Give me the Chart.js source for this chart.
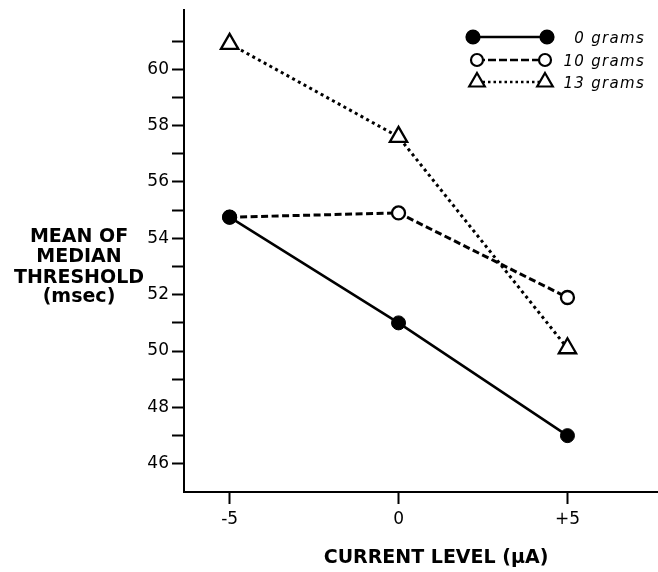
<!DOCTYPE html>
<html>
<head>
<meta charset="utf-8">
<script src="https://cdn.jsdelivr.net/npm/chart.js@4/dist/chart.umd.min.js"></script>
<style>
  html, body { margin: 0; padding: 0; background: #fff; overflow: hidden; }
  #wrap { width: 658px; height: 572px; position: relative; }
</style>
</head>
<body>
<div id="wrap"><canvas id="threshold_chart"></canvas></div>
<script>
// current level (uA) on x, mean of median threshold (msec) on y
const xValues = [-5, 0, 5];
const xTickLabels = ["-5", "0", "+5"];
const grams0 = [54.75, 51.0, 47.0];
const grams10 = [54.75, 54.9, 51.9];
const grams13 = [60.9, 57.6, 50.1];
const yTicks = [46, 47, 48, 49, 50, 51, 52, 53, 54, 55, 56, 57, 58, 59, 60, 61];
const yTickLabels = ["46", "", "48", "", "50", "", "52", "", "54", "", "56", "", "58", "", "60", ""];
const seriesNames = ["0 grams", "10 grams", "13 grams"];
const yTitleLines = ["MEAN OF", "MEDIAN", "THRESHOLD", "(msec)"];
const xTitle = "CURRENT LEVEL (\u03BCA)";

const toPoints = (vals) => vals.map((v, i) => ({ x: xValues[i], y: v }));

function drawMarker(ctx, style, x, y, r, filled) {
  ctx.beginPath();
  if (style === "triangle") {
    ctx.moveTo(x, y - r);
    ctx.lineTo(x + r * 0.866, y + r / 2);
    ctx.lineTo(x - r * 0.866, y + r / 2);
    ctx.closePath();
  } else {
    ctx.arc(x, y, r, 0, Math.PI * 2);
  }
  ctx.fillStyle = filled ? "#000" : "#fff";
  ctx.fill();
  ctx.lineWidth = 2.2;
  ctx.strokeStyle = "#000";
  ctx.stroke();
}

const extras = {
  id: "extras",
  afterDraw(chart) {
    const ctx = chart.ctx;
    ctx.save();
    ctx.fillStyle = "#000";

    // y title, horizontal block left of the axis
    ctx.font = "bold 19px 'DejaVu Sans'";
    ctx.textAlign = "center";
    ctx.textBaseline = "alphabetic";
    const ys = [242, 262, 283, 302];
    yTitleLines.forEach((t, i) => ctx.fillText(t, 79, ys[i]));

    // x title
    ctx.fillText(xTitle, 436, 563);

    // legend: line with a marker at both ends
    const rows = [
      { y: 37, style: "circle", r: 6.5, filled: true, dash: [], x0: 473, x1: 547 },
      { y: 60, style: "circle", r: 6, filled: false, dash: [8, 3], x0: 477, x1: 545 },
      { y: 82, style: "triangle", r: 9, filled: false, dash: [2.5, 3], x0: 477, x1: 545 },
    ];
    rows.forEach((row, i) => {
      ctx.beginPath();
      ctx.setLineDash(row.dash);
      ctx.lineWidth = 2.5;
      ctx.strokeStyle = "#000";
      ctx.moveTo(row.x0, row.y);
      ctx.lineTo(row.x1, row.y);
      ctx.stroke();
      ctx.setLineDash([]);
      drawMarker(ctx, row.style, row.x0, row.y, row.r, row.filled);
      drawMarker(ctx, row.style, row.x1, row.y, row.r, row.filled);

      ctx.fillStyle = "#000";
      ctx.font = "oblique 15px 'DejaVu Sans'";
      ctx.letterSpacing = "1.3px";
      ctx.textAlign = "right";
      ctx.fillText(seriesNames[i], 645, row.y + 5.5);
      ctx.letterSpacing = "0px";
    });
    ctx.restore();
  },
};

const ctx = document.getElementById("threshold_chart");
new Chart(ctx, {
  type: "line",
  data: {
    datasets: [
      {
        label: seriesNames[0],
        data: toPoints(grams0),
        borderColor: "#000",
        borderWidth: 2.5,
        pointStyle: "circle",
        pointRadius: 7,
        pointBackgroundColor: "#000",
        pointBorderColor: "#000",
        pointBorderWidth: 1,
      },
      {
        label: seriesNames[1],
        data: toPoints(grams10),
        borderColor: "#000",
        borderWidth: 3,
        borderDash: [7, 3.5],
        pointStyle: "circle",
        pointRadius: 6.5,
        pointBackgroundColor: "#fff",
        pointBorderColor: "#000",
        pointBorderWidth: 2.3,
      },
      {
        label: seriesNames[2],
        data: toPoints(grams13),
        borderColor: "#000",
        borderWidth: 3,
        borderDash: [3, 3.5],
        pointStyle: "triangle",
        pointRadius: 10,
        pointBackgroundColor: "#fff",
        pointBorderColor: "#000",
        pointBorderWidth: 2.3,
      },
    ],
  },
  options: {
    responsive: true,
    maintainAspectRatio: false,
    animation: false,
    clip: false,
    layout: { autoPadding: false, padding: { top: 10, right: 0, left: 0, bottom: 0 } },
    plugins: {
      legend: { display: false },
      tooltip: { enabled: false },
    },
    scales: {
      x: {
        type: "linear",
        min: -6.35,
        max: 7.68,
        afterBuildTicks: (scale) => {
          scale.ticks = xValues.map((v) => ({ value: v }));
        },
        afterFit: (scale) => {
          scale.height = 80;
          scale.paddingLeft = 0;
          scale.paddingRight = 0;
        },
        ticks: {
          callback: (value, index) => xTickLabels[index],
          color: "#000",
          padding: 5,
          maxRotation: 0,
          font: { family: "'DejaVu Sans'", size: 17 },
        },
        grid: {
          drawOnChartArea: false,
          tickLength: 12,
          tickColor: "#000",
          tickWidth: 2,
        },
        border: { color: "#000", width: 2 },
      },
      y: {
        min: 45,
        max: 62.1,
        afterBuildTicks: (scale) => {
          scale.ticks = yTicks.map((v) => ({ value: v }));
        },
        afterFit: (scale) => {
          scale.width = 184;
          scale.paddingTop = 0;
          scale.paddingBottom = 0;
        },
        ticks: {
          callback: (value, index) => yTickLabels[index],
          color: "#000",
          padding: 3,
          font: { family: "'DejaVu Sans'", size: 17 },
        },
        grid: {
          drawOnChartArea: false,
          tickLength: 12,
          tickColor: "#000",
          tickWidth: 2,
        },
        border: { color: "#000", width: 2 },
      },
    },
  },
  plugins: [extras],
});
</script>
</body>
</html>
